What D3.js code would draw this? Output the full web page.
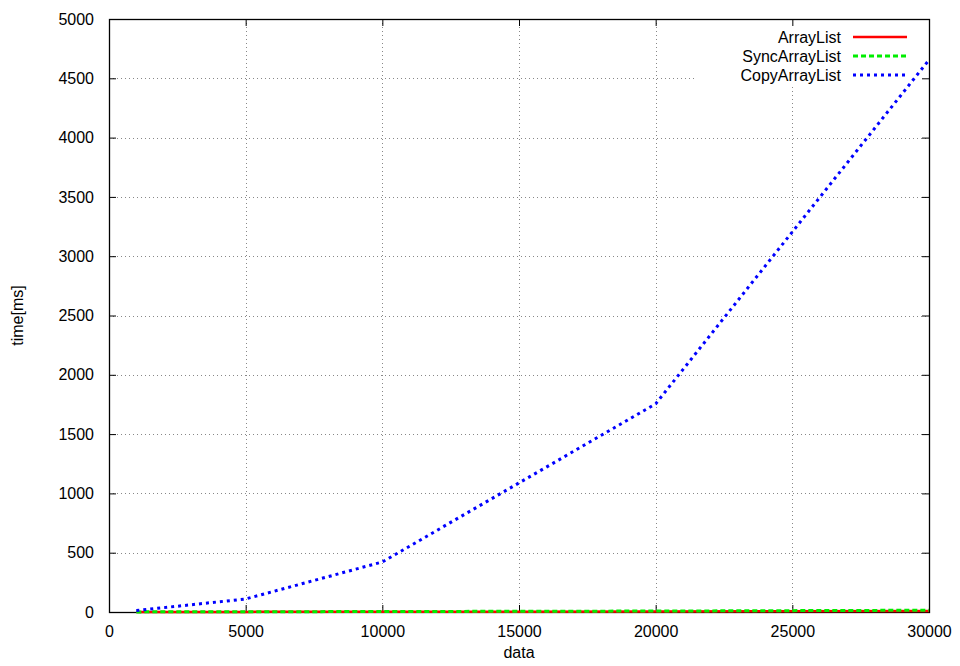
<!DOCTYPE html>
<html>
<head>
<meta charset="utf-8">
<script src="https://cdn.jsdelivr.net/npm/d3@7"></script>
<style>
  html, body { margin: 0; padding: 0; background: #fff; }
  text { font-family: "Liberation Sans", Arial, sans-serif; }
</style>
</head>
<body>
<svg id="chart" width="960" height="666"></svg>
<script>
// Benchmark: insertion time by number of elements
const dataSizes = [1000, 5000, 10000, 20000, 30000];
const arrayListMs = [0, 1, 2, 4, 8];
const syncArrayListMs = [1, 2, 4, 8, 15];
const copyArrayListMs = [12, 110, 422, 1755, 4655];

const xTicks = [0, 5000, 10000, 15000, 20000, 25000, 30000];
const yTicks = [0, 500, 1000, 1500, 2000, 2500, 3000, 3500, 4000, 4500, 5000];

const seriesNames = ["ArrayList", "SyncArrayList", "CopyArrayList"];
const seriesColors = ["#ff0000", "#00ee00", "#0000ff"];
const seriesDash = [null, "5,3", "3,4"];
const seriesWidth = [2.5, 3, 3];
const seriesValues = [arrayListMs, syncArrayListMs, copyArrayListMs];

const svg = d3.select("#chart");
const m = { left: 109, right: 929, top: 19, bottom: 612 };

const x = d3.scaleLinear().domain([0, 30000]).range([m.left, m.right]);
const y = d3.scaleLinear().domain([0, 5000]).range([m.bottom, m.top]);

// legend occupies the upper-right corner; grid lines stop short of it
const legendLeft = 697, legendBottom = 86;

const grid = svg.append("g").attr("stroke", "#888").attr("stroke-width", 1)
  .attr("stroke-dasharray", "1,3");
xTicks.slice(1, -1).forEach(t => {
  const top = (x(t) > legendLeft) ? legendBottom : m.top;
  grid.append("line").attr("x1", Math.round(x(t)) + 0.5).attr("x2", Math.round(x(t)) + 0.5)
    .attr("y1", m.bottom).attr("y2", top);
});
yTicks.slice(1, -1).forEach(t => {
  const right = (y(t) < legendBottom) ? legendLeft : m.right;
  grid.append("line").attr("y1", Math.round(y(t)) + 0.5).attr("y2", Math.round(y(t)) + 0.5)
    .attr("x1", m.left).attr("x2", right);
});

// axes with inward ticks, mirrored on the opposite sides
const fontSize = 16;
const xAxis = d3.axisBottom(x).tickValues(xTicks).tickSize(-7).tickPadding(14).tickFormat(d3.format("d"));
const yAxis = d3.axisLeft(y).tickValues(yTicks).tickSize(-7).tickPadding(14).tickFormat(d3.format("d"));

const gx = svg.append("g").attr("transform", `translate(0,${m.bottom})`).call(xAxis);
const gy = svg.append("g").attr("transform", `translate(${m.left},0)`).call(yAxis);
const gx2 = svg.append("g").attr("transform", `translate(0,${m.top})`)
  .call(d3.axisTop(x).tickValues(xTicks).tickSize(-7).tickFormat(""));
const gy2 = svg.append("g").attr("transform", `translate(${m.right},0)`)
  .call(d3.axisRight(y).tickValues(yTicks).tickSize(-7).tickFormat(""));

[gx, gy, gx2, gy2].forEach(g => {
  g.select(".domain").remove();
  g.selectAll("line").attr("stroke", "#000").attr("stroke-width", 1);
  g.selectAll("text").attr("font-size", fontSize).attr("fill", "#000")
    .attr("font-family", "Liberation Sans, Arial, sans-serif");
});
gy.selectAll("text").attr("dx", "-1");

// frame
svg.append("rect").attr("x", m.left + 0.5).attr("y", m.top + 0.5)
  .attr("width", m.right - m.left).attr("height", m.bottom - m.top)
  .attr("fill", "none").attr("stroke", "#000").attr("stroke-width", 1.3);

// series
const line = d3.line().x(d => x(d[0])).y(d => y(d[1]));
seriesValues.forEach((vals, i) => {
  svg.append("path")
    .datum(dataSizes.map((d, j) => [d, vals[j]]))
    .attr("d", line)
    .attr("fill", "none")
    .attr("stroke", seriesColors[i])
    .attr("stroke-width", seriesWidth[i])
    .attr("stroke-dasharray", seriesDash[i]);
});

// legend
const leg = svg.append("g");
seriesNames.forEach((name, i) => {
  const yy = 37 + i * 19;
  leg.append("text").attr("x", 841).attr("y", yy).attr("dy", "0.35em")
    .attr("text-anchor", "end").attr("font-size", fontSize).text(name);
  leg.append("line").attr("x1", 853).attr("x2", 907).attr("y1", yy).attr("y2", yy)
    .attr("stroke", seriesColors[i]).attr("stroke-width", seriesWidth[i])
    .attr("stroke-dasharray", seriesDash[i]);
});

// axis titles
svg.append("text").attr("x", (m.left + m.right) / 2).attr("y", 658)
  .attr("text-anchor", "middle").attr("font-size", fontSize).text("data");
svg.append("text").attr("transform", `translate(23,${(m.top + m.bottom) / 2}) rotate(-90)`)
  .attr("text-anchor", "middle").attr("font-size", fontSize).text("time[ms]");
</script>
</body>
</html>
